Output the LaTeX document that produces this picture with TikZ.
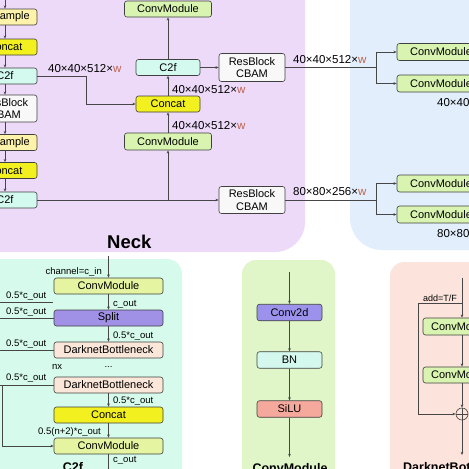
\documentclass[tikz,border=0pt]{standalone}
\usepackage{fontspec}
\setmainfont{Liberation Sans}
\usetikzlibrary{arrows.meta}
\definecolor{neckbg}{RGB}{236,218,248}
\definecolor{bluebg}{RGB}{226,238,251}
\definecolor{ctwobg}{RGB}{214,250,236}
\definecolor{cmbg}{RGB}{224,246,200}
\definecolor{dbbg}{RGB}{252,228,220}
\definecolor{upsfill}{RGB}{255,242,170}
\definecolor{catfill}{RGB}{242,240,30}
\definecolor{ctwofill}{RGB}{212,250,240}
\definecolor{rbfill}{RGB}{248,248,248}
\definecolor{cmfill}{RGB}{216,244,176}
\definecolor{cmfilltwo}{RGB}{228,244,160}
\definecolor{splitfill}{RGB}{160,145,230}
\definecolor{dbfill}{RGB}{251,231,218}
\definecolor{convfill}{RGB}{156,146,236}
\definecolor{bnfill}{RGB}{212,248,238}
\definecolor{silufill}{RGB}{245,168,156}
\definecolor{wcol}{RGB}{190,100,80}
\definecolor{linecol}{RGB}{70,70,70}
\begin{document}
\begin{tikzpicture}[x=1pt,y=-1pt,
  box/.style={draw=black!75, line width=0.6pt, rounded corners=2.5pt, inner sep=0pt,
    font=\fontsize{11}{12.5}\selectfont, align=center},
  nbox/.style={box, minimum width=64pt, minimum height=16pt},
  wbox/.style={box, minimum width=87pt, minimum height=17pt},
  cbox/.style={box, minimum width=109pt, minimum height=16pt},
  sbox/.style={box, minimum width=65pt, minimum height=16.5pt},
  lbl/.style={inner sep=0pt, font=\fontsize{11.5}{13}\selectfont},
  slbl/.style={inner sep=0pt, font=\fontsize{9.5}{11}\selectfont},
  ttl/.style={inner sep=0pt, font=\bfseries\fontsize{12.5}{14}\selectfont},
  ln/.style={draw=linecol, line width=0.6pt},
  arr/.style={ln, -{Stealth[length=3.2pt,width=2.6pt]}}
]
\path[use as bounding box] (0,0) rectangle (469,469);
\clip (0,0) rectangle (469,469);
\fill[white] (0,0) rectangle (469,469);
% panels
\fill[neckbg, rounded corners=30pt] (-60,-60) rectangle (305,252);
\fill[bluebg, rounded corners=32pt] (350,-60) rectangle (560,250);
\fill[ctwobg, rounded corners=15pt] (-60,259) rectangle (182,560);
\fill[cmbg, rounded corners=14pt] (242,260) rectangle (335,560);
\fill[dbbg, rounded corners=14pt] (390,262) rectangle (560,560);

% ---------- Neck, left column
\node[nbox, fill=upsfill] (ups1) at (5,17) {Upsample};
\node[nbox, fill=catfill] (cat1) at (5,47) {Concat};
\node[nbox, fill=ctwofill] (ctwoa) at (5,76) {C2f};
\node[nbox, fill=rbfill, minimum height=27pt] (rba) at (5,108.5) {ResBlock\\CBAM};
\node[nbox, fill=upsfill] (ups2) at (5,142.5) {Upsample};
\node[nbox, fill=catfill] (cat2) at (5,170.5) {Concat};
\node[nbox, fill=ctwofill] (ctwob) at (5,200) {C2f};
\coordinate (topin) at (5,-2);
\draw[arr] (topin) -- (ups1);
\draw[arr] (ups1) -- (cat1);
\draw[arr] (cat1) -- (ctwoa);
\draw[arr] (ctwoa) -- (rba);
\draw[arr] (rba) -- (ups2);
\draw[arr] (ups2) -- (cat2);
\draw[arr] (cat2) -- (ctwob);

% ---------- Neck, middle column
\node[wbox, fill=cmfill, minimum height=16pt] (cmtop) at (168,9) {ConvModule};
\node[nbox, fill=ctwofill] (ctwom) at (168,67.5) {C2f};
\node[nbox, fill=catfill] (catm) at (168,104) {Concat};
\node[wbox, fill=cmfill] (cmm) at (168,141.5) {ConvModule};
\node[box, fill=rbfill, minimum width=66pt, minimum height=28pt] (rbu) at (252,67.5) {ResBlock\\CBAM};
\node[box, fill=rbfill, minimum width=66pt, minimum height=27pt] (rbl) at (252,200) {ResBlock\\CBAM};

\coordinate (ja) at (86,104);
\draw[arr] (ctwoa.east) -| (ja) -- (catm.west);
\coordinate (jb) at (168,200);
\draw[ln] (ctwob.east) -- (jb);
\draw[arr] (jb) -- (cmm.south);
\draw[arr] (jb) -- (rbl.west);
\draw[arr] (cmm) -- (catm);
\draw[arr] (catm) -- (ctwom);
\draw[arr] (ctwom) -- (cmtop);
\draw[arr] (ctwom) -- (rbu);

% ---------- right (blue) column
\node[wbox, fill=cmfill, minimum width=88pt] (cmr1) at (441,52) {ConvModule};
\node[wbox, fill=cmfill, minimum width=88pt] (cmr2) at (441,83.5) {ConvModule};
\node[wbox, fill=cmfill, minimum width=88pt] (cmr3) at (441,183.5) {ConvModule};
\node[wbox, fill=cmfill, minimum width=88pt] (cmr4) at (441,214.5) {ConvModule};
\coordinate (jc) at (376,67.5);
\coordinate (jd) at (376,200);
\draw[ln] (rbu.east) -- (jc);
\draw[arr] (jc) |- (cmr1.west);
\draw[arr] (jc) |- (cmr2.west);
\draw[ln] (rbl.east) -- (jd);
\draw[arr] (jd) |- (cmr3.west);
\draw[arr] (jd) |- (cmr4.west);

% neck labels
\node[lbl, anchor=base west] (la) at (48,72) {40×40×512×\textcolor{wcol}{w}};
\node[lbl, anchor=base west] (lb) at (172,93) {40×40×512×\textcolor{wcol}{w}};
\node[lbl, anchor=base west] (lc) at (172,129) {40×40×512×\textcolor{wcol}{w}};
\node[lbl, anchor=base west] (ld) at (293,63) {40×40×512×\textcolor{wcol}{w}};
\node[lbl, anchor=base west] (le) at (293,195) {80×80×256×\textcolor{wcol}{w}};
\node[lbl, anchor=base west] (lf) at (437,106) {40×40×512×\textcolor{wcol}{w}};
\node[lbl, anchor=base west] (lg) at (437,237) {80×80×256×\textcolor{wcol}{w}};
\node[inner sep=0pt, anchor=base west, font=\bfseries\fontsize{18.5}{20}\selectfont] (neck) at (107,248) {Neck};

% ---------- C2f panel
\node[cbox, fill=cmfilltwo] (cma) at (108.5,286) {ConvModule};
\node[cbox, fill=splitfill] (split) at (108.5,318) {Split};
\node[cbox, fill=dbfill] (dba) at (108.5,350) {DarknetBottleneck};
\node[cbox, fill=dbfill] (dbb) at (108.5,385) {DarknetBottleneck};
\node[cbox, fill=catfill] (catc) at (108.5,415) {Concat};
\node[cbox, fill=cmfilltwo] (cmb) at (108.5,446) {ConvModule};
\coordinate (cin) at (108.5,256);
\coordinate (cout) at (108.5,472);
\draw[arr] (cin) -- (cma);
\draw[arr] (cma) -- (split);
\draw[arr] (split) -- (dba);
\draw[arr] (dbb) -- (catc);
\draw[arr] (catc) -- (cmb);
\draw[arr] (cmb) -- (cout);
\coordinate (la1) at (-2,302);
\coordinate (la1e) at (53,302);
\draw[ln] (la1) -- (la1e);
\coordinate (la2) at (-2,318);
\draw[ln] (la2) -- (split.west);
\coordinate (la3) at (-2,350);
\draw[ln] (la3) -- (dba.west);
\coordinate (la4) at (-2,385);
\coordinate (bus) at (2,385);
\draw[ln] (la4) -- (dbb.west);
\draw[arr] (bus) |- (cmb.west);

\node[slbl, anchor=base east] (t1) at (102,274) {channel=c\_in};
\node[slbl, anchor=base west] (t2) at (6,298) {0.5*c\_out};
\node[slbl, anchor=base west] (t3) at (6,314) {0.5*c\_out};
\node[slbl, anchor=base west] (t4) at (6,346) {0.5*c\_out};
\node[slbl, anchor=base west] (t5) at (6,380) {0.5*c\_out};
\node[slbl, anchor=base west] (t6) at (113,306) {c\_out};
\node[slbl, anchor=base west] (t7) at (113,338) {0.5*c\_out};
\node[slbl, anchor=base west] (t8) at (52,369) {nx};
\node[slbl, anchor=base] (t9) at (108.5,367) {...};
\node[slbl, anchor=base west] (t10) at (113,403) {0.5*c\_out};
\node[slbl, anchor=base east] (t11) at (101,434) {0.5(n+2)*c\_out};
\node[slbl, anchor=base west] (t12) at (113,462) {c\_out};
\node[ttl, anchor=base] (c2ft) at (73,471) {C2f};

% ---------- ConvModule panel
\node[sbox, fill=convfill] (conv) at (289.5,312.5) {Conv2d};
\node[sbox, fill=bnfill] (bn) at (289.5,360) {BN};
\node[sbox, fill=silufill] (silu) at (289.5,409) {SiLU};
\coordinate (cmin) at (289.5,272);
\coordinate (cmout) at (289.5,457);
\draw[arr] (cmin) -- (conv);
\draw[arr] (conv) -- (bn);
\draw[arr] (bn) -- (silu);
\draw[arr] (silu) -- (cmout);
\node[ttl, anchor=base] (cmt) at (290,472) {ConvModule};

% ---------- DarknetBottleneck panel
\node[box, fill=cmfill, minimum width=78pt, minimum height=17pt] (dcm1) at (462,326.5) {ConvModule};
\node[box, fill=cmfill, minimum width=78pt, minimum height=16pt] (dcm2) at (462,375) {ConvModule};
\node[draw=linecol, line width=0.6pt, circle, minimum size=12pt, inner sep=0pt] (plus) at (462,414) {};
\draw[ln] (plus.north) -- (plus.south) (plus.west) -- (plus.east);
\coordinate (din) at (462,278);
\coordinate (dsk) at (462,303);
\coordinate (dskl) at (418,303);
\coordinate (dout) at (462,455);
\draw[arr] (din) -- (dcm1);
\draw[arr] (dcm1) -- (dcm2);
\draw[arr] (dcm2) -- (plus);
\draw[arr] (plus) -- (dout);
\draw[ln] (dsk) -- (dskl);
\draw[arr] (dskl) |- (plus.west);
\node[inner sep=0pt, anchor=base west, font=\fontsize{9}{11}\selectfont] (addl) at (423,301) {add=T/F};
\node[ttl, anchor=base west] (dbt) at (403,471) {DarknetBottleneck};
\end{tikzpicture}
\end{document}
